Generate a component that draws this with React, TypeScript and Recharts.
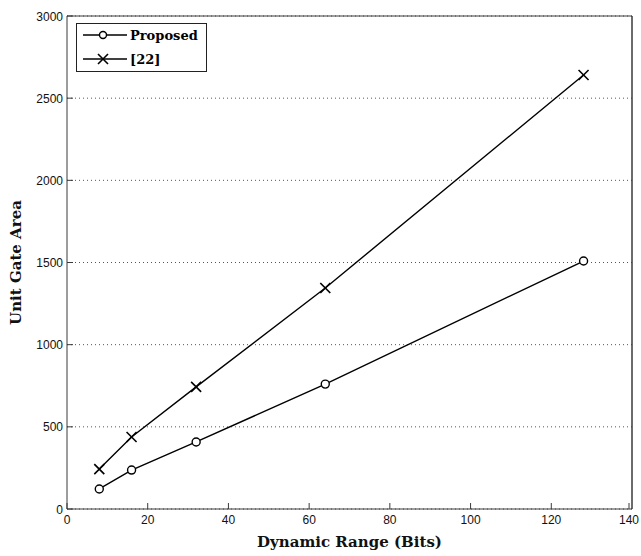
import { LineChart, Line, XAxis, YAxis, CartesianGrid, ReferenceLine } from "recharts";

const bits = [8, 16, 32, 64, 128];
const proposed = [122, 237, 408, 760, 1509];
const ref22 = [243, 438, 743, 1345, 2641];
const xTicks = [0, 20, 40, 60, 80, 100, 120, 140];
const yTicks = [0, 500, 1000, 1500, 2000, 2500, 3000];

const data = bits.map((b, i) => ({ bits: b, proposed: proposed[i], ref22: ref22[i] }));

const AXIS = "#3a3a3a";
const TICK_FONT = "'Liberation Sans', Arial, sans-serif";
const LABEL_FONT = "'DejaVu Serif', 'Liberation Serif', serif";

const CircleDot = (props: any) => {
  const { cx, cy } = props;
  if (cx == null || cy == null) return null;
  return <circle key={`c-${cx}`} cx={cx} cy={cy} r={4} fill="#fff" stroke="#000" strokeWidth={1.4} />;
};

const CrossDot = (props: any) => {
  const { cx, cy } = props;
  if (cx == null || cy == null) return null;
  const s = 5;
  return (
    <g key={`x-${cx}`} stroke="#000" strokeWidth={1.6}>
      <line x1={cx - s} y1={cy - s} x2={cx + s} y2={cy + s} />
      <line x1={cx - s} y1={cy + s} x2={cx + s} y2={cy - s} />
    </g>
  );
};

const bottomTick = (props: any) => {
  const { x, y, payload } = props;
  return (
    <g>
      <line x1={x} y1={y} x2={x} y2={y - 6} stroke={AXIS} />
      <text x={x} y={y + 15} textAnchor="middle" fontSize={12} fontFamily={TICK_FONT} fill="#111">
        {payload.value}
      </text>
    </g>
  );
};

const topTick = (props: any) => {
  const { x, y } = props;
  return <line x1={x} y1={y} x2={x} y2={y + 6} stroke={AXIS} />;
};

const leftTick = (props: any) => {
  const { x, y, payload } = props;
  return (
    <g>
      <line x1={x} y1={y} x2={x + 6} y2={y} stroke={AXIS} />
      <text x={x - 4} y={y + 4.5} textAnchor="end" fontSize={12} fontFamily={TICK_FONT} fill="#111">
        {payload.value}
      </text>
    </g>
  );
};

const rightTick = (props: any) => {
  const { x, y } = props;
  return <line x1={x} y1={y} x2={x - 6} y2={y} stroke={AXIS} />;
};

const LegendBox = () => (
  <div
    style={{
      position: "absolute",
      left: 76,
      top: 23,
      border: "1px solid #222",
      background: "#fff",
      width: 131,
      height: 49,
      boxSizing: "border-box",
      padding: "4px 0 0 6px",
    }}
  >
    <svg width={124} height={42} style={{ display: "block" }}>
      <line x1={0} y1={7} x2={44} y2={7} stroke="#000" strokeWidth={1.4} />
      <circle cx={20} cy={7} r={3.5} fill="#fff" stroke="#000" strokeWidth={1.4} />
      <text x={47} y={11.5} fontSize={13} fontWeight="bold" fontFamily={LABEL_FONT}>
        Proposed
      </text>
      <line x1={0} y1={31} x2={44} y2={31} stroke="#000" strokeWidth={1.4} />
      <line x1={15} y1={26} x2={25} y2={36} stroke="#000" strokeWidth={1.6} />
      <line x1={15} y1={36} x2={25} y2={26} stroke="#000" strokeWidth={1.6} />
      <text x={47} y={35.5} fontSize={13} fontWeight="bold" fontFamily={LABEL_FONT}>
        [22]
      </text>
    </svg>
  </div>
);

export default function App() {
  return (
    <div style={{ position: "absolute", left: 0, top: 0, width: 641, height: 556, background: "#fff" }}>
      <LineChart width={641} height={556} data={data} margin={{ top: 16, right: 0, left: 0, bottom: 0 }}>
        <CartesianGrid
          xAxisId="bottom"
          yAxisId="left"
          vertical={false}
          stroke="#555"
          strokeDasharray="1 3"
        />
        <XAxis
          xAxisId="bottom"
          dataKey="bits"
          type="number"
          domain={[0, 140]}
          ticks={xTicks}
          height={47}
          stroke={AXIS}
          tickLine={false}
          tickSize={0}
          tickMargin={0}
          tick={bottomTick}
          label={{
            value: "Dynamic Range (Bits)",
            position: "insideBottom",
            offset: 9,
            fontSize: 15,
            fontWeight: "bold",
            fontFamily: LABEL_FONT,
            fill: "#111",
          }}
        />
        <XAxis
          xAxisId="top"
          orientation="top"
          dataKey="bits"
          type="number"
          domain={[0, 140]}
          ticks={xTicks}
          height={0}
          stroke={AXIS}
          tickLine={false}
          tickSize={0}
          tickMargin={0}
          tick={topTick}
        />
        <YAxis
          yAxisId="left"
          type="number"
          domain={[0, 3000]}
          ticks={yTicks}
          width={67}
          stroke={AXIS}
          tickLine={false}
          tickSize={0}
          tickMargin={0}
          tick={leftTick}
          label={{
            value: "Unit Gate Area",
            angle: -90,
            position: "insideLeft",
            offset: 16,
            style: { textAnchor: "middle" },
            fontSize: 15,
            fontWeight: "bold",
            fontFamily: LABEL_FONT,
            fill: "#111",
          }}
        />
        <YAxis
          yAxisId="right"
          orientation="right"
          type="number"
          domain={[0, 3000]}
          ticks={yTicks}
          width={9}
          stroke={AXIS}
          tickLine={false}
          tickSize={0}
          tickMargin={0}
          tick={rightTick}
        />
        <ReferenceLine xAxisId="bottom" yAxisId="left" x={140} stroke={AXIS} />
        <ReferenceLine xAxisId="bottom" yAxisId="left" y={3000} stroke={AXIS} />
        <Line
          xAxisId="bottom"
          yAxisId="left"
          dataKey="proposed"
          stroke="#000"
          strokeWidth={1.4}
          dot={CircleDot}
          activeDot={false}
          isAnimationActive={false}
        />
        <Line
          xAxisId="bottom"
          yAxisId="left"
          dataKey="ref22"
          stroke="#000"
          strokeWidth={1.4}
          dot={CrossDot}
          activeDot={false}
          isAnimationActive={false}
        />
      </LineChart>
      <LegendBox />
    </div>
  );
}
